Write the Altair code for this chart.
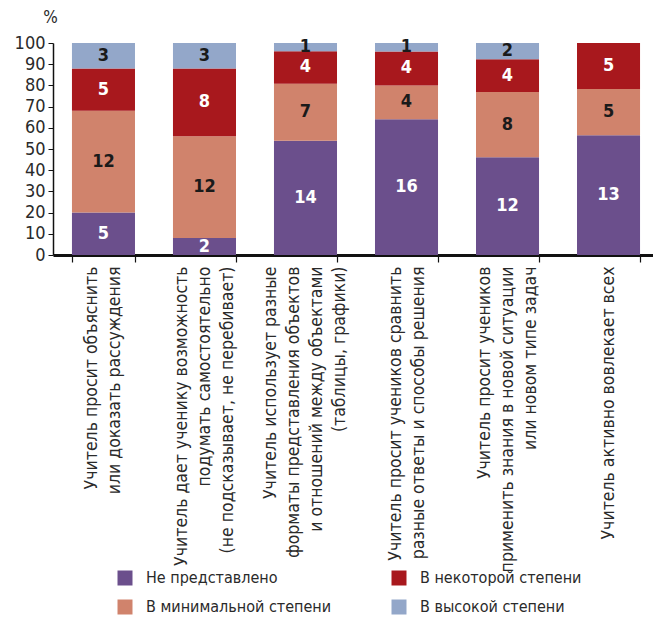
import altair as alt
import pandas as pd

categories = [
    "Учитель просит объяснить|или доказать  рассуждения",
    "Учитель дает ученику возможность|подумать самостоятельно|(не подсказывает, не перебивает)",
    "Учитель использует разные|форматы  представления объектов|и отношений между объектами|(таблицы, графики)",
    "Учитель просит учеников сравнить|разные ответы и способы решения",
    "Учитель просит учеников|применить знания в новой ситуации|или новом типе задач",
    "Учитель активно вовлекает всех",
]
series = ["Не представлено", "В минимальной степени", "В некоторой степени", "В высокой степени"]
colors = ["#6b4f8c", "#d0836c", "#a8181d", "#93a7c9"]
y_ticks = [0, 10, 20, 30, 40, 50, 60, 70, 80, 90, 100]

not_presented = [5, 2, 14, 16, 12, 13]
minimal = [12, 12, 7, 4, 8, 5]
some = [5, 8, 4, 4, 4, 5]
high = [3, 3, 1, 1, 2, 0]

values = [not_presented, minimal, some, high]
rows = []
for k, s in enumerate(series):
    for i, c in enumerate(categories):
        rows.append({"cat": c, "series": s, "ord": k, "value": values[k][i]})
df = pd.DataFrame(rows)

FONT = "DejaVu Sans Condensed, Liberation Sans Narrow, Roboto"
LH = 23

# center multi-line axis labels on their band
offset_expr = {
    "condition": [
        {"test": "length(split(datum.label, '|')) == 4", "value": -1.5 * LH},
        {"test": "length(split(datum.label, '|')) == 3", "value": -1.0 * LH},
        {"test": "length(split(datum.label, '|')) == 2", "value": -0.5 * LH},
    ],
    "value": 0,
}

base = alt.Chart(df).transform_joinaggregate(
    total="sum(value)", groupby=["cat"]
).transform_calculate(
    pct="datum.value / datum.total * 100"
).transform_window(
    y1="sum(pct)", sort=[alt.SortField("ord")], groupby=["cat"], frame=[None, 0]
).transform_calculate(
    y0="datum.y1 - datum.pct"
).transform_calculate(
    mid="(datum.y0 + datum.y1) / 2"
)

x = alt.X(
    "cat:N", sort=categories, title=None,
    scale=alt.Scale(paddingInner=0.376, paddingOuter=0.158, align=0.594),
    axis=alt.Axis(
        labelAngle=-90, labelExpr="split(datum.label, '|')", labelLineHeight=LH,
        labelBaseline="middle", labelOffset=offset_expr,
        labelFont=FONT, labelFontSize=17.5, labelColor="#2a2a2a", labelLimit=500,
        labelPadding=4, tickSize=7, tickColor="#111", tickWidth=1.2, tickBand="extent",
        domainColor="#111", domainWidth=3,
    ),
)

y_axis = alt.Axis(values=y_ticks, tickCount=11, title="%", titleAngle=0,
                  titleX=-3, titleY=-17, titleFont=FONT, titleFontSize=17,
                  titleFontWeight="normal", titleColor="#2a2a2a", titleAlign="center",
                  labelFont=FONT, labelFontSize=18, labelColor="#2a2a2a",
                  labelOverlap=False, labelPadding=3, tickSize=5, tickColor="#111",
                  domainColor="#111", domainWidth=1.5, grid=False)
y_scale = alt.Scale(domain=[0, 100], nice=False)

bars = base.mark_bar().encode(
    x=x,
    y=alt.Y("y1:Q", scale=y_scale, axis=y_axis),
    y2="y0:Q",
    color=alt.Color("series:N",
                    scale=alt.Scale(domain=series, range=colors),
                    legend=alt.Legend(title=None, orient="none", legendX=64, legendY=527,
                                      columns=2, columnPadding=59, rowPadding=13,
                                      symbolType="square", symbolSize=225, symbolStrokeWidth=0,
                                      labelFont=FONT, labelFontSize=16, labelColor="#2a2a2a",
                                      labelOffset=13, labelLimit=400)),
)

labels = base.transform_filter("datum.value > 0").mark_text(
    font=FONT, fontSize=18, fontWeight="bold", baseline="middle"
).encode(
    x=x,
    y=alt.Y("mid:Q", scale=y_scale, axis=y_axis),
    text=alt.Text("value:Q"),
    color=alt.condition((alt.datum.ord == 0) | (alt.datum.ord == 2),
                        alt.value("white"), alt.value("#1a1a1a")),
)

chart = alt.layer(bars, labels).properties(
    width=600, height=212,
    autosize=alt.AutoSizeParams(type="none"),
    padding={"left": 53, "top": 43, "right": 0, "bottom": 364},
).configure_view(stroke=None)

chart.save("out.html", embed_options={"renderer": "svg", "actions": False})
